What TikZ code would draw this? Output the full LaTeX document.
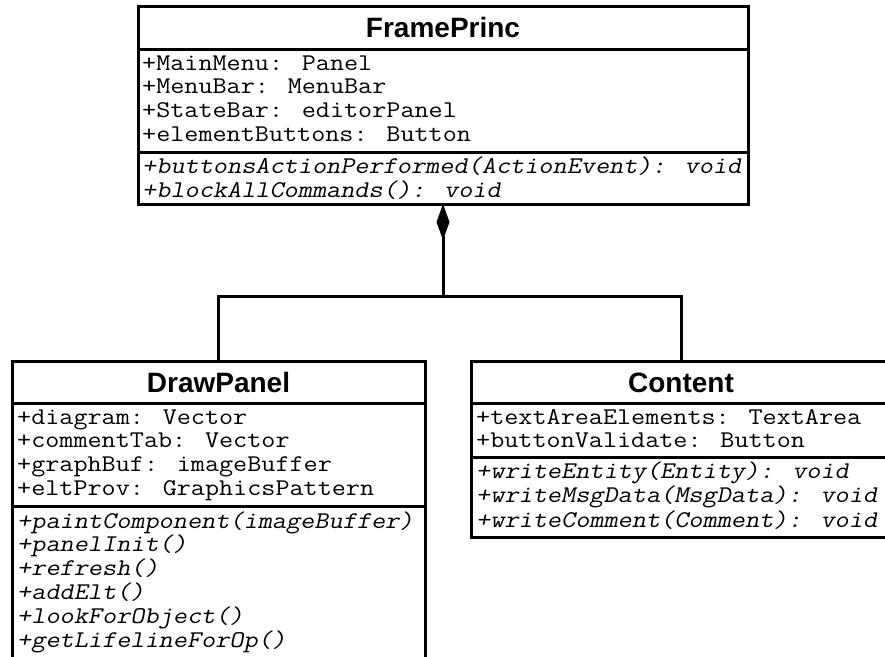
\documentclass[tikz,border=0pt]{standalone}
\usepackage{fontspec}
\newfontfamily\umlmono{Latin Modern Mono}[FakeStretch=1.14]
\newfontfamily\umlmonosl{Latin Modern Mono}[FakeStretch=1.145, FakeSlant=0.2]
\newfontfamily\umlsans{Liberation Sans}
\usetikzlibrary{arrows.meta}
\tikzset{
  umlbox/.style={draw, line width=3pt, inner sep=0pt, outer sep=0pt, anchor=north west},
  sepline/.style={line width=3pt},
  conn/.style={line width=3pt},
  attr/.style={anchor=base west, inner sep=0pt, font=\umlmono\fontsize{24}{24}\selectfont},
  meth/.style={attr, font=\umlmonosl\fontsize{24}{24}\selectfont},
  umltitle/.style={anchor=base, inner sep=0pt, font=\umlsans\bfseries\fontsize{28}{28}\selectfont},
}
\begin{document}
\begin{tikzpicture}[x=1pt,y=-1pt]
\useasboundingbox (0,0) rectangle (885,656);
\clip (0,0) rectangle (885,656);
% FramePrinc
\node[umlbox, minimum width=610pt, minimum height=198pt] (fp) at (138,6) {};
\draw[sepline] (138,49) -- (748,49);
\draw[sepline] (138,152) -- (748,152);
\node[umltitle] (fpt) at (443,37.5) {FramePrinc};
\foreach \t [count=\i] in {{+MainMenu: Panel},{+MenuBar: MenuBar},{+StateBar: editorPanel},{+elementButtons: Button}}
  \node[attr, name=fpa\i] at (142,{70+23.7*(\i-1)}) {\t};
\foreach \t [count=\i] in {{+buttonsActionPerformed(ActionEvent): void},{+blockAllCommands(): void}}
  \node[meth, name=fpm\i] at (142,{173.5+23.7*(\i-1)}) {\t};
% DrawPanel
\node[umlbox, minimum width=413pt, minimum height=320pt] (dp) at (12,361) {};
\draw[sepline] (12,403) -- (425,403);
\draw[sepline] (12,506) -- (425,506);
\node[umltitle] (dpt) at (218.5,392) {DrawPanel};
\foreach \t [count=\i] in {{+diagram: Vector},{+commentTab: Vector},{+graphBuf: imageBuffer},{+eltProv: GraphicsPattern}}
  \node[attr, name=dpa\i] at (17,{424+23.7*(\i-1)}) {\t};
\foreach \t [count=\i] in {{+paintComponent(imageBuffer)},{+panelInit()},{+refresh()},{+addElt()},{+lookForObject()},{+getLifelineForOp()}}
  \node[meth, name=dpm\i] at (17,{528+23.9*(\i-1)}) {\t};
% Content
\node[umlbox, minimum width=420pt, minimum height=176pt] (ct) at (471,361) {};
\draw[sepline] (471,403) -- (891,403);
\draw[sepline] (471,457) -- (891,457);
\node[umltitle] (ctt) at (681,392) {Content};
\foreach \t [count=\i] in {{+textAreaElements: TextArea},{+buttonValidate: Button}}
  \node[attr, name=cta\i] at (476,{424+23.8*(\i-1)}) {\t};
\foreach \t [count=\i] in {{+writeEntity(Entity): void},{+writeMsgData(MsgData): void},{+writeComment(Comment): void}}
  \node[meth, name=ctm\i] at (476,{478+24.5*(\i-1)}) {\t};
% composition connector
\coordinate (j) at (443,296);
\draw[conn, {Diamond[length=36pt, width=13pt]}-] (fp.south) -- (j);
\draw[conn] (dp.north) |- (j) -| (ct.north);
\end{tikzpicture}
\end{document}
